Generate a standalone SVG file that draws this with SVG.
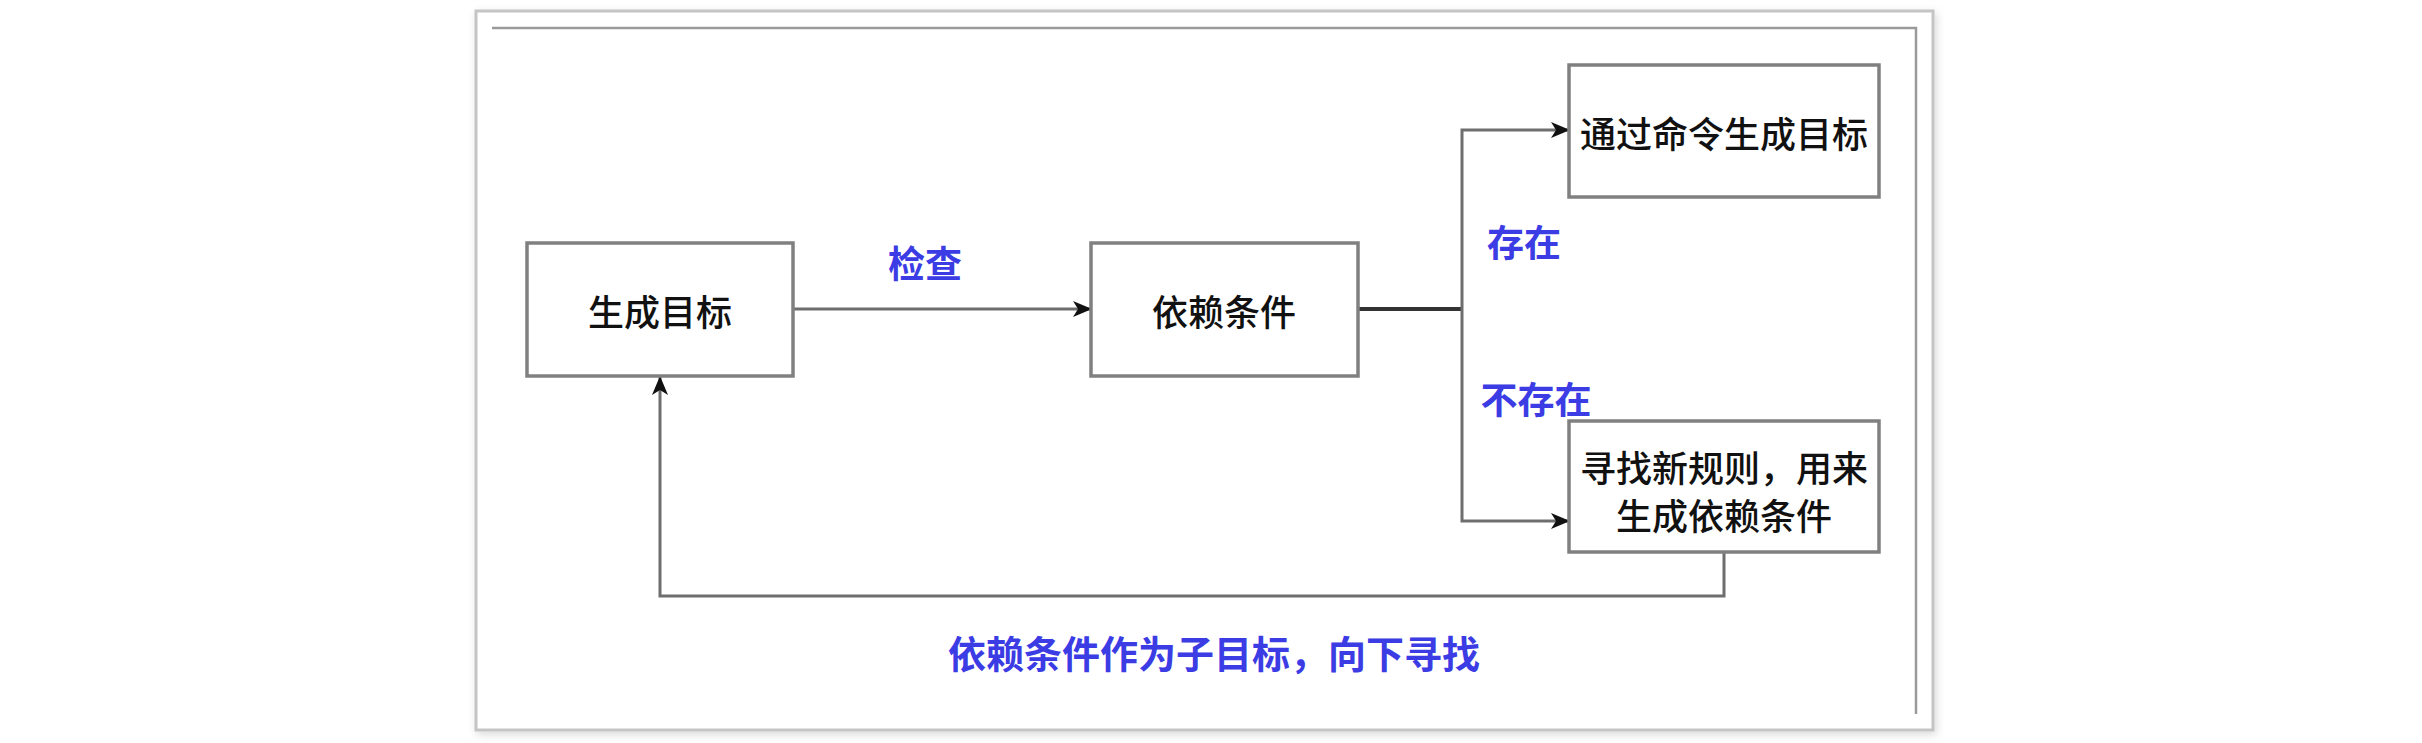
<svg xmlns="http://www.w3.org/2000/svg" width="2422" height="743" viewBox="0 0 2422 743">
  <style>
    .node rect { fill: #ffffff; stroke: #808080; stroke-width: 3.5; }
    .node text { font-family: "Noto Sans CJK SC", "Noto Sans", sans-serif; font-size: 36px; font-weight: 500; fill: #111111; text-anchor: middle; dominant-baseline: central; }
    .lbl { font-family: "Noto Sans CJK SC", "Noto Sans", sans-serif; font-weight: bold; fill: #3c3ce4; text-anchor: middle; dominant-baseline: central; }
    .conn { fill: none; stroke: #6e6e6e; stroke-width: 3; }
  </style>
  <defs>
    <marker id="arrow" markerUnits="userSpaceOnUse" markerWidth="20" markerHeight="16" refX="18" refY="8" orient="auto">
      <path d="M0,0 L19,8 L0,16 L5,8 z" fill="#111111"/>
    </marker>
    <filter id="shadow" x="-5%" y="-5%" width="110%" height="110%">
      <feDropShadow dx="2" dy="3" stdDeviation="4" flood-color="#000000" flood-opacity="0.15"/>
    </filter>
  </defs>
  <rect width="2422" height="743" fill="#ffffff"/>
  <g id="frame">
    <rect x="476" y="11" width="1457" height="719" fill="#ffffff" stroke="#c4c4c4" stroke-width="3" filter="url(#shadow)"/>
    <path d="M492,28 H1916 V714" fill="none" stroke="#9a9a9a" stroke-width="2.5"/>
  </g>
  <g id="connectors">
    <path class="conn" d="M793,309 H1091" marker-end="url(#arrow)"/>
    <path d="M1358,309 H1462" fill="none" stroke="#333333" stroke-width="4"/>
    <path class="conn" d="M1462,309 V130 H1569" marker-end="url(#arrow)"/>
    <path class="conn" d="M1462,309 V521 H1569" marker-end="url(#arrow)"/>
    <path class="conn" d="M1724,552 V596 H660 V377" marker-end="url(#arrow)"/>
  </g>
  <g id="node-goal" class="node">
    <rect x="527" y="243" width="266" height="133"/>
    <text x="660" y="310">生成目标</text>
  </g>
  <g id="node-dep" class="node">
    <rect x="1091" y="243" width="267" height="133"/>
    <text x="1224" y="310">依赖条件</text>
  </g>
  <g id="node-cmd" class="node">
    <rect x="1569" y="65" width="310" height="132"/>
    <text x="1724" y="132">通过命令生成目标</text>
  </g>
  <g id="node-rule" class="node">
    <rect x="1569" y="421" width="310" height="131"/>
    <text x="1724" y="466">寻找新规则，用来</text>
    <text x="1724" y="514">生成依赖条件</text>
  </g>
  <g id="labels">
    <text class="lbl" x="925" y="262" font-size="37">检查</text>
    <text class="lbl" x="1524" y="241" font-size="37">存在</text>
    <text class="lbl" x="1536" y="398" font-size="37">不存在</text>
    <text class="lbl" x="1214" y="651" font-size="38">依赖条件作为子目标，向下寻找</text>
  </g>
</svg>
